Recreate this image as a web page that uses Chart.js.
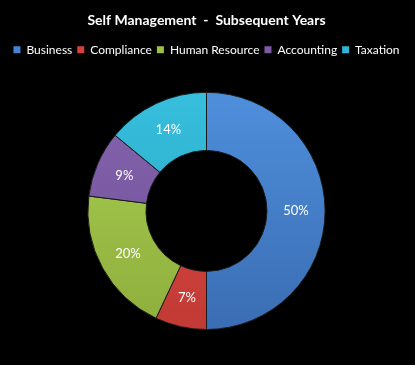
<!DOCTYPE html>
<html>
<head>
<meta charset="utf-8">
<script src="https://cdn.jsdelivr.net/npm/chart.js@4/dist/chart.umd.min.js"></script>
<style>
  html, body { margin: 0; padding: 0; background: #000; }
  #wrap { width: 415px; height: 365px; position: relative; }
</style>
</head>
<body>
<div id="wrap"><canvas id="selfMgmtCanvas" width="415" height="365"></canvas></div>
<script>
var categories = ["Business", "Compliance", "Human Resource", "Accounting", "Taxation"];
var shares = [50, 7, 20, 9, 14];
var topColours = ["#4f8fdc", "#de4a42", "#a8cf52", "#8564ae", "#36bfdd"];
var bottomColours = ["#3a6db3", "#c23a35", "#8fae3c", "#6e4f96", "#2aa2c0"];
var legendColours = ["#4683d4", "#d8403c", "#9cc140", "#7c5aa4", "#2fb5d6"];
var titleText = "Self Management  -  Subsequent Years";

var fontFamily = "Lato, 'Open Sans', sans-serif";

// vertical shading like the office chart style
function sliceFill(context) {
    var chart = context.chart;
    var area = chart.chartArea;
    var i = context.dataIndex;
    if (!area) return legendColours[i];
    var g = chart.ctx.createLinearGradient(0, area.top, 0, area.bottom);
    g.addColorStop(0, topColours[i]);
    g.addColorStop(1, bottomColours[i]);
    return g;
}

// extra room between legend and the ring
var legendSpacer = {
    id: 'legendSpacer',
    beforeInit: function(chart) {
        var origFit = chart.legend.fit;
        chart.legend.fit = function() {
            origFit.bind(chart.legend)();
            this.height += 26;
        };
    }
};

// draws the percentage in the middle of each slice
var sliceLabels = {
    id: 'sliceLabels',
    afterDatasetsDraw: function(chart) {
        var ctx = chart.ctx;
        var meta = chart.getDatasetMeta(0);
        ctx.save();
        ctx.font = "13px " + fontFamily;
        ctx.fillStyle = "#ffffff";
        ctx.textAlign = "center";
        ctx.textBaseline = "middle";
        meta.data.forEach(function(arc, i) {
            var pos = arc.tooltipPosition();
            ctx.fillText(shares[i] + "%", pos.x, pos.y);
        });
        ctx.restore();
    }
};

var ctx = document.getElementById('selfMgmtCanvas');
var myChart = new Chart(ctx, {
    type: 'doughnut',
    data: {
        labels: categories,
        datasets: [{
            data: shares,
            backgroundColor: sliceFill,
            borderColor: "#1a1a1a",
            borderWidth: 1
        }]
    },
    options: {
        responsive: false,
        animation: false,
        cutout: '51%',
        layout: { padding: { top: 0, bottom: 35, left: 0, right: 2 } },
        plugins: {
            title: {
                display: true,
                text: titleText,
                color: "#ffffff",
                font: { family: fontFamily, size: 14, weight: 'bold' },
                padding: { top: 12, bottom: 10 }
            },
            legend: {
                position: 'top',
                labels: {
                    color: "#ffffff",
                    font: { family: fontFamily, size: 12 },
                    boxWidth: 7,
                    boxHeight: 7,
                    padding: 5,
                    generateLabels: function(chart) {
                        return categories.map(function(name, i) {
                            return {
                                text: name,
                                fillStyle: legendColours[i],
                                strokeStyle: legendColours[i],
                                lineWidth: 0,
                                fontColor: "#ffffff",
                                index: i,
                                hidden: false
                            };
                        });
                    }
                }
            },
            tooltip: { enabled: false }
        }
    },
    plugins: [legendSpacer, sliceLabels]
});
</script>
</body>
</html>
